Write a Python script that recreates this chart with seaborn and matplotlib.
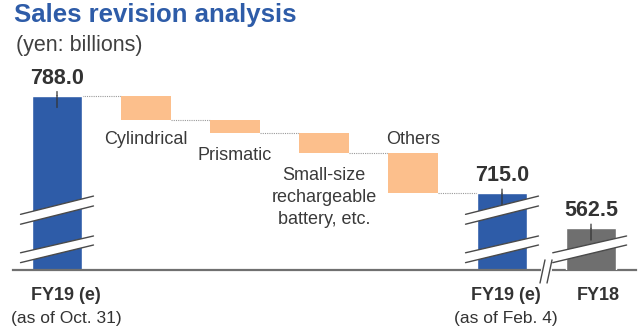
import numpy as np
import pandas as pd
import matplotlib
matplotlib.use("Agg")
import matplotlib.pyplot as plt
from matplotlib.patches import Polygon
import seaborn as sns

# ---------------- data ----------------
title = "Sales revision analysis"
subtitle = "(yen: billions)"

start_label = "FY19 (e)"
start_note = "(as of Oct. 31)"
start_value = 788.0

step_labels = ["Cylindrical", "Prismatic", "Small-size\nrechargeable\nbattery, etc.", "Others"]
step_values = [-18.5, -9.5, -15.0, -30.0]

end_label = "FY19 (e)"
end_note = "(as of Feb. 4)"
end_value = 715.0

prior_label = "FY18"
prior_value = 562.5

# ---------------- style / layout ----------------
BLUE = "#2E5CA8"
ORANGE = "#FCBF8C"
GRAY = "#6F6F6F"
TEXT = "#333333"
AXIS = "#707070"

W, H = 640, 334
BAR_W = 0.56
floor_main = 657.6        # value at the (broken) baseline of the main panel
floor_prior = 531.3       # value at the (broken) baseline of the FY18 panel
span = 157.1              # visible value range of both panels
LINE_PITCH = 21.7         # px between lines of multi-line labels

sns.set_theme(style="white")
plt.rcParams["font.family"] = ["Liberation Sans", "DejaVu Sans"]

fig = plt.figure(figsize=(W / 100, H / 100), dpi=100)
ax = fig.add_axes([12.5 / W, 64 / H, 623 / W, 210 / H])

keys = ["start", "s1", "s2", "s3", "s4", "end", "prior"]
pos = {k: i for i, k in enumerate(keys)}

totals = pd.DataFrame({"key": ["start", "end"], "value": [start_value, end_value]})
sns.barplot(data=totals, x="key", y="value", order=keys, color=BLUE,
            saturation=1, width=BAR_W, ax=ax, zorder=2)

# floating steps
running = start_value
levels = [start_value]
for i, v in enumerate(step_values):
    new = running + v
    ax.bar(pos["s%d" % (i + 1)], abs(v), bottom=min(running, new), width=BAR_W,
           color=ORANGE, zorder=2, linewidth=0)
    running = new
    levels.append(running)

# FY18 on its own (broken) scale
ax2 = ax.twinx()
prior = pd.DataFrame({"key": ["prior"], "value": [prior_value]})
sns.barplot(data=prior, x="key", y="value", order=keys, color=GRAY,
            saturation=1, width=BAR_W, ax=ax2, zorder=2)

ax.set_xlim(-0.5, 6.5)
ax.set_ylim(floor_main, floor_main + span)
ax2.set_ylim(floor_prior, floor_prior + span)
for a in (ax, ax2):
    a.set_xticks([])
    a.set_yticks([])
    a.set_xlabel("")
    a.set_ylabel("")
    a.grid(False)
for s in ["top", "right", "left"]:
    ax.spines[s].set_visible(False)
for s in ax2.spines.values():
    s.set_visible(False)
ax.spines["bottom"].set_color(AXIS)
ax.spines["bottom"].set_linewidth(1.6)

# dotted connectors
for i in range(len(levels)):
    x0 = i + BAR_W / 2
    x1 = i + 1 - BAR_W / 2
    ax.plot([x0, x1], [levels[i], levels[i]], color="#9A9A9A", lw=0.8,
            ls=(0, (1, 1)), zorder=1)

# step labels (baseline of the last line is anchored -> shift by extra lines)
step_offsets = [-24, -27, -27, 9.5]   # pixels relative to bar bottom / top
for i, (lab, v) in enumerate(zip(step_labels, step_values)):
    top = levels[i]
    bot = levels[i + 1]
    off = step_offsets[i]
    y = top if off > 0 else bot
    n_extra = lab.count("\n")
    off_px = off - n_extra * LINE_PITCH
    ax.annotate(lab, xy=(i + 1, y), xytext=(0, off_px * 0.72), textcoords="offset points",
                ha="center", va="baseline", fontsize=13, color="#3A3A3A",
                linespacing=1.37, multialignment="center")

# value labels and leader ticks
def value_label(a, x, v):
    a.annotate(f"{v:.1f}", xy=(x, v), xytext=(0, 8.5), textcoords="offset points",
               ha="center", va="baseline", fontsize=15.5, fontweight="bold", color=TEXT)
    a.annotate("", xy=(x, v), xytext=(0, 3), textcoords="offset points",
               arrowprops=dict(arrowstyle="-", color=TEXT, lw=0.9,
                               shrinkA=0, shrinkB=0))
    a.annotate("", xy=(x, v), xytext=(0, -8.5), textcoords="offset points",
               arrowprops=dict(arrowstyle="-", color=TEXT, lw=0.9,
                               shrinkA=0, shrinkB=0))

value_label(ax, pos["start"], start_value)
value_label(ax, pos["end"], end_value)
value_label(ax2, pos["prior"], prior_value)

# break bands (slanted white gaps)
def band(a, xc, lo, hi, xl=0.41, xr=0.41):
    tr = a.get_xaxis_transform()
    xs = [xc - xl, xc + xr]
    poly = Polygon([(xs[0], lo[0]), (xs[1], lo[1]), (xs[1], hi[1]), (xs[0], hi[0])],
                   closed=True, facecolor="white", edgecolor="none",
                   transform=tr, zorder=5, clip_on=False)
    a.add_patch(poly)
    for ys in (lo, hi):
        a.plot(xs, ys, color="#4A4A4A", lw=1.0, transform=tr, zorder=6, clip_on=False)

upper = ((0.218, 0.305), (0.265, 0.352))
lower = ((0.035, 0.119), (0.082, 0.162))
for k in ("start", "end"):
    band(ax, pos[k], *upper)
    band(ax, pos[k], *lower)
band(ax2, pos["prior"], *lower, xl=0.43, xr=0.40)

# axis break marks
tr2 = ax2.get_xaxis_transform()
ax2.plot([5.46, 5.535], [0, 0], color="white", lw=3, transform=tr2, zorder=9, clip_on=False)
for dx in (0.0, 0.079):
    ax2.plot([5.427 + dx, 5.483 + dx], [-0.062, 0.048], color="#4A4A4A", lw=1.0,
             transform=tr2, zorder=10, clip_on=False)

# category labels under axis
bottom_labels = [(pos["start"] + 0.1, start_label, start_note),
                 (pos["end"] + 0.04, end_label, end_note),
                 (pos["prior"] + 0.08, prior_label, None)]
for x, lab, note in bottom_labels:
    ax.annotate(lab, xy=(x, 0), xycoords=ax.get_xaxis_transform(), xytext=(0, -21.6),
                textcoords="offset points", ha="center", va="baseline",
                fontsize=13, fontweight="bold", color=TEXT, annotation_clip=False)
    if note:
        ax.annotate(note, xy=(x, 0), xycoords=ax.get_xaxis_transform(), xytext=(0, -38.5),
                    textcoords="offset points", ha="center", va="baseline",
                    fontsize=12.5, color=TEXT, annotation_clip=False)

fig.text(14 / W, 1 - 21.7 / H, title, fontsize=18.5, fontweight="bold",
         color=BLUE, va="baseline", ha="left")
fig.text(16 / W, 1 - 51.5 / H, subtitle, fontsize=15.5, color="#404040",
         va="baseline", ha="left")

fig.savefig("out.png", dpi=100)
